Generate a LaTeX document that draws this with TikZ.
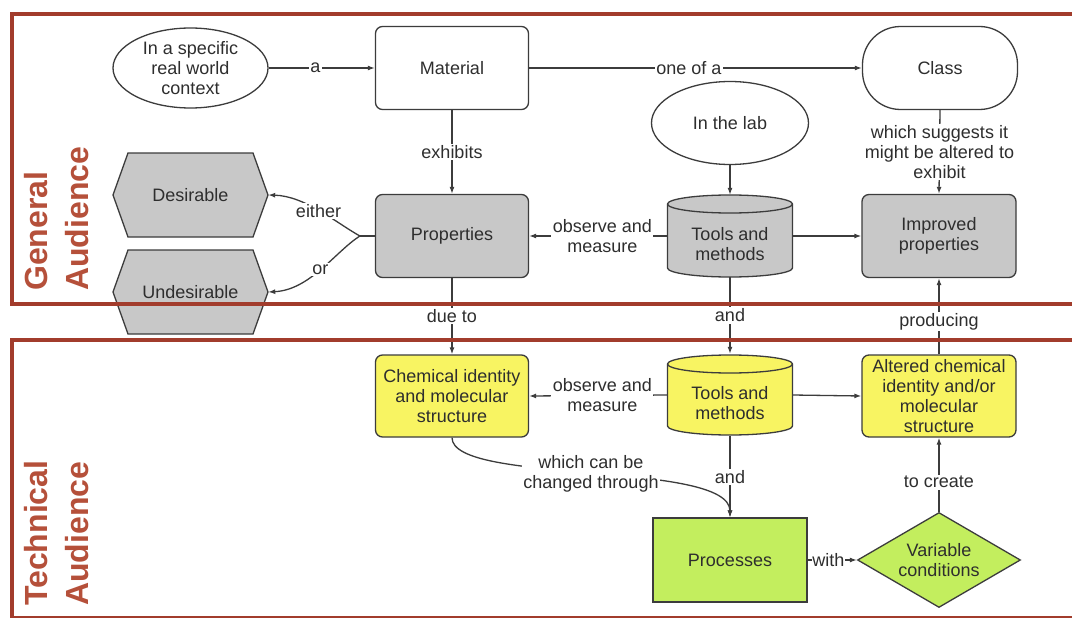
\documentclass[tikz,border=0pt]{standalone}
\usepackage{fontspec}
\setmainfont{Liberation Sans}
\usetikzlibrary{shapes.geometric,arrows.meta}

\definecolor{framered}{HTML}{A23C2C}
\definecolor{titlered}{HTML}{B5503A}
\definecolor{boxgray}{HTML}{C8C8C8}
\definecolor{boxyellow}{HTML}{F8F462}
\definecolor{boxgreen}{HTML}{C3EE5E}
\definecolor{linegray}{HTML}{3C3C3C}
\definecolor{txt}{HTML}{2E2E2E}

\begin{document}
\begin{tikzpicture}[x=1pt,y=-1pt,
  every node/.style={font=\fontsize{18}{20}\selectfont, text=txt, align=center},
  conn/.style={line width=1.3pt, draw=linegray, -{Latex[length=7pt,width=5pt]}},
  plainline/.style={line width=1.3pt, draw=linegray},
  lbl/.style={fill=white, inner sep=1.5pt},
  outline/.style={draw=linegray, line width=1.3pt},
  rbox/.style={outline, rectangle, rounded corners=7pt, inner sep=2pt,
               minimum width=153pt, minimum height=83pt},
  cylbox/.style={rectangle, inner sep=0pt, minimum width=125pt, minimum height=82pt},
  hexbox/.style={rectangle, inner sep=0pt, minimum width=155pt, minimum height=84pt},
  frame/.style={draw=framered, line width=4.5pt},
  title/.style={font=\fontsize{32}{41}\selectfont\bfseries, text=titlered,
                align=left, inner sep=0pt, rotate=90, anchor=west}]

\useasboundingbox (0,0) rectangle (1072,618);
\fill[white] (0,0) rectangle (1072,618);

% ---- hexagons for desirable / undesirable properties
\filldraw[outline, fill=boxgray] (113,195) -- (128,153) -- (253,153) -- (268,195)
  -- (253,237) -- (128,237) -- cycle;
\filldraw[outline, fill=boxgray] (113,292) -- (128,250) -- (253,250) -- (268,292)
  -- (253,334) -- (128,334) -- cycle;
\node[hexbox] (des) at (190.5,195) {Desirable};
\node[hexbox] (und) at (190.5,292) {Undesirable};

% ---- cylinders (tools and methods)
\filldraw[outline, fill=boxgray] (667.5,204) -- (667.5,268)
  arc[start angle=180, end angle=360, x radius=62.5pt, y radius=9pt] -- (792.5,204)
  arc[start angle=0, end angle=180, x radius=62.5pt, y radius=9pt] -- cycle;
\draw[outline] (667.5,204) arc[start angle=180, end angle=360, x radius=62.5pt, y radius=9pt];
\filldraw[outline, fill=boxyellow] (667.5,364) -- (667.5,426)
  arc[start angle=180, end angle=360, x radius=62.5pt, y radius=9pt] -- (792.5,364)
  arc[start angle=0, end angle=180, x radius=62.5pt, y radius=9pt] -- cycle;
\draw[outline] (667.5,364) arc[start angle=180, end angle=360, x radius=62.5pt, y radius=9pt];
\node[cylbox, label={[yshift=-8pt]center:{Tools and\\methods}}] (tg) at (730,236) {};
\node[cylbox, label={[yshift=-8pt]center:{Tools and\\methods}}] (tt) at (730,395) {};

% ---- general audience nodes
\node[outline, ellipse, inner sep=0pt, minimum width=155pt, minimum height=80pt]
  (ctx) at (190.5,68) {In a specific\\real world\\context};
\node[rbox, fill=white] (mat) at (452,68) {Material};
\node[outline, rectangle, rounded corners=38pt, minimum width=155pt, minimum height=83pt,
  fill=white] (cls) at (940,68) {Class};
\node[outline, ellipse, inner sep=0pt, minimum width=157pt, minimum height=83pt]
  (lab) at (730,123) {In the lab};
\node[rbox, fill=boxgray] (prop) at (452,236) {Properties};
\node[rbox, fill=boxgray, minimum width=154pt] (imp) at (939,236) {Improved\\properties};

% ---- technical audience nodes
\node[rbox, fill=boxyellow, minimum height=82pt] (chem) at (452,396)
  {Chemical identity\\and molecular\\structure};
\node[rbox, fill=boxyellow, minimum width=154pt, minimum height=82pt] (alt) at (939,396)
  {Altered chemical\\identity and/or\\molecular\\structure};
\node[outline, rectangle, fill=boxgreen, minimum width=154pt, minimum height=84pt]
  (proc) at (730,560) {Processes};
\node[outline, diamond, fill=boxgreen, inner sep=0pt, aspect=1.7,
  minimum width=163pt, minimum height=95pt] (var) at (939,560) {Variable\\conditions};

% ---- connectors, general audience
\draw[conn] (ctx.east) -- node[lbl, pos=0.44] {a} (mat.west);
\draw[conn] (mat.east) -- node[lbl, pos=0.48] {one of a} (cls.west);
\draw[conn] (mat.south) -- node[lbl] {exhibits} (prop.north);
\draw[conn] (lab.south) -- (tg.north);
\draw[conn] (tg.west) -- node[lbl, pos=0.47] {observe and\\measure} (prop.east);
\draw[conn] (tg.east) -- (imp.west);
\draw[conn] (cls.south) -- node[lbl] {which suggests it\\might be altered to\\exhibit} (imp.north);
\coordinate (split) at ([xshift=-15pt]prop.west);
\draw[plainline] (prop.west) -- (split);
\draw[conn] (split) .. controls (335,222) and (305,196) .. node[lbl] {either} (des.east);
\draw[conn] (split) .. controls (335,252) and (310,290) .. node[lbl] {or} (und.east);

% ---- connectors between the two levels
\draw[conn] (prop.south) -- node[lbl] {due to} (chem.north);
\draw[conn] (tg.south) -- node[lbl] {and} (tt.north);
\draw[conn] (alt.north) -- node[lbl, pos=0.43] {producing} (imp.south);

% ---- connectors, technical audience
\draw[conn] (tt.west) -- node[lbl, pos=0.47] {observe and\\measure} (chem.east);
\draw[conn] (tt.east) -- (alt.west);
\draw[conn] (tt.south) -- node[lbl] {and} (proc.north);
\draw[conn] (chem.south) .. controls (452,485) and (730,460) ..
  node[lbl] {which can be\\changed through} (proc.north);
\draw[conn] (proc.east) -- node[lbl, inner sep=0.5pt, pos=0.42] {with} (var.west);
\draw[conn] (var.north) -- node[lbl, pos=0.4] {to create} (alt.south);

% ---- audience frames
\draw[frame] (12,14) rectangle (1095,304);
\draw[frame] (12,340) rectangle (1095,618);

% ---- audience titles
\node[title] (gen) at (57,291) {General\\Audience};
\node[title] (tech) at (57,606) {Technical\\Audience};
\end{tikzpicture}
\end{document}
